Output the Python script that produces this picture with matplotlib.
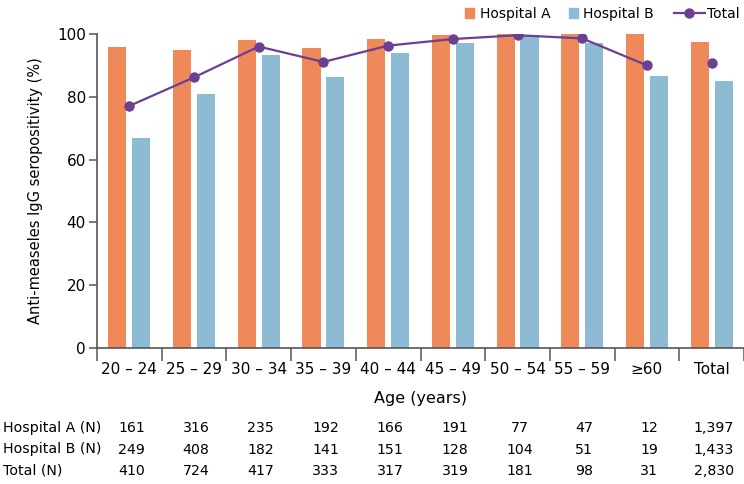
import numpy as np
import matplotlib
matplotlib.use("Agg")
import matplotlib.pyplot as plt
from matplotlib.lines import Line2D
from matplotlib.patches import Patch

plt.rcParams['font.family'] = ['DejaVu Sans']

# ------------------------------------------------------------------ data
ages = ["20 – 24", "25 – 29", "30 – 34", "35 – 39", "40 – 44",
        "45 – 49", "50 – 54", "55 – 59", "≥60", "Total"]
hosp_a = [96.0, 94.9, 98.1, 95.6, 98.5, 99.7, 100.0, 100.0, 100.0, 97.5]
hosp_b = [66.9, 80.9, 93.4, 86.3, 93.8, 97.0, 99.8, 97.0, 86.6, 85.1]
total = [77.1, 86.2, 96.0, 91.1, 96.3, 98.4, 99.6, 98.6, 90.0, 90.7]

n_rows = ["Hospital A (N)", "Hospital B (N)", "Total (N)"]
n_a = ["161", "316", "235", "192", "166", "191", "77", "47", "12", "1,397"]
n_b = ["249", "408", "182", "141", "151", "128", "104", "51", "19", "1,433"]
n_tot = ["410", "724", "417", "333", "317", "319", "181", "98", "31", "2,830"]

C_A, C_B, C_T = "#f0895a", "#8dbbd4", "#6b3f92"
GREY = "#555555"

# ------------------------------------------------------------------ figure
W, H = 744, 484
fig = plt.figure(figsize=(W / 100, H / 100), dpi=100)
ax = fig.add_axes([97 / W, 1 - 348 / H, 1 - 97 / W, (348 - 34) / H])

x = np.arange(len(ages))
w = 0.28
ax.bar(x - 0.185, hosp_a, w, color=C_A)
ax.bar(x + 0.185, hosp_b, w, color=C_B)
ax.plot(x[:-1], total[:-1], color=C_T, lw=1.6, marker="o", ms=6.5, zorder=3)
ax.plot(x[-1:], total[-1:], color=C_T, lw=0, marker="o", ms=6.5, zorder=3)

ax.set_xlim(-0.5, len(ages) - 0.5)
ax.set_ylim(0, 100)
ax.set_yticks([0, 20, 40, 60, 80, 100])
# group separators as major ticks, labels on minor ticks at centres
ax.set_xticks(np.arange(-0.5, len(ages), 1.0))
ax.set_xticklabels([])
ax.set_xticks(x, minor=True)
ax.set_xticklabels(ages, minor=True)
ax.tick_params(axis="x", which="major", length=9, color=GREY, width=1.1)
ax.tick_params(axis="x", which="minor", length=0, labelsize=11, pad=10)
ax.tick_params(axis="y", length=6, color=GREY, width=1.1, labelsize=11, pad=2)
for s in ("top", "right"):
    ax.spines[s].set_visible(False)
for s in ("left", "bottom"):
    ax.spines[s].set_color(GREY)
    ax.spines[s].set_linewidth(1.2)

ax.set_ylabel("Anti-measeles IgG seropositivity (%)", fontsize=10.5, labelpad=10)
fig.text(0.5 * (97 + 744) / W, 1 - 398 / H, "Age (years)", fontsize=11.5,
         ha="center", va="center")

# count table under the axis
to_fig = fig.transFigure.inverted()
for r, (lab, vals) in enumerate(zip(n_rows, [n_a, n_b, n_tot])):
    yy = 1 - (428 + r * 21.5) / H
    fig.text(3 / W, yy, lab, fontsize=10.2, va="center", ha="left")
    for i, v in enumerate(vals):
        xf = to_fig.transform(ax.transData.transform((i, 0)))[0]
        fig.text(xf + 2 / W, yy, v, fontsize=10.2, va="center", ha="center")

# legend: squares for the bars, a separate one for the line
bar_handles = [Patch(color=C_A, label="Hospital A"),
               Patch(color=C_B, label="Hospital B")]
line_handle = [Line2D([], [], color=C_T, lw=1.6, marker="o", ms=6.5, label="Total")]
fig.legend(handles=bar_handles, loc="upper right", bbox_to_anchor=(661 / W, 1.0),
           ncol=2, frameon=False, fontsize=10, handlelength=0.65,
           handleheight=0.65, columnspacing=1.3, handletextpad=0.4,
           borderaxespad=0.1)
fig.legend(handles=line_handle, loc="upper right", bbox_to_anchor=(1.004, 1.0),
           frameon=False, fontsize=10, handlelength=2.2, handletextpad=0.2,
           borderaxespad=0.1)

fig.savefig("out.png", dpi=100)
